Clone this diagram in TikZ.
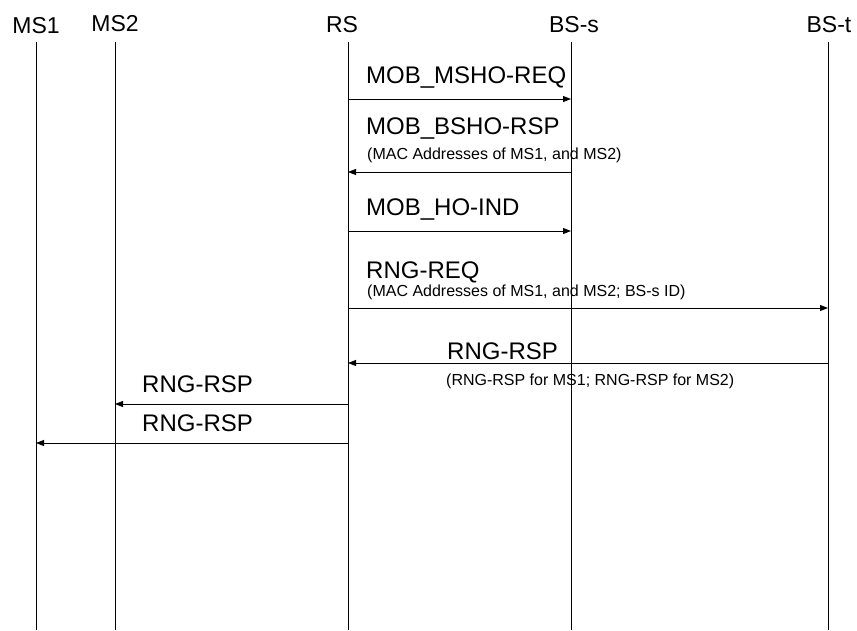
\documentclass[tikz,border=0pt]{standalone}
\usepackage{fontspec}
\setmainfont{Liberation Sans}
\usetikzlibrary{positioning,arrows.meta}

\begin{document}
\begin{tikzpicture}[
  x=1pt,y=-1pt,
  entity/.style={anchor=base,inner sep=0pt,font=\fontsize{23}{27}\selectfont},
  msglabel/.style={anchor=base west,inner sep=0pt,font=\fontsize{24}{28}\selectfont},
  msgnote/.style={anchor=base west,inner sep=0pt,font=\fontsize{16}{19}\selectfont},
  lifeline/.style={line width=0.9pt},
  msg/.style={line width=0.9pt,-{Triangle[length=8pt,width=6pt]}}
]
\useasboundingbox (0,0) rectangle (857,630);

% entities
\node[entity] (ms1) at (36,33) {MS1};
\node[entity] (ms2) at (115,31) {MS2};
\node[entity] (rs)  at (342,32) {RS};
\node[entity] (bss) at (574,32) {BS-s};
\node[entity] (bst) at (829,32) {BS-t};

% lifelines
\coordinate (ms1-top) at (36,42);  \coordinate (ms1-bot) at (36,630);
\coordinate (ms2-top) at (115,42); \coordinate (ms2-bot) at (115,630);
\coordinate (rs-top)  at (348,42); \coordinate (rs-bot)  at (348,630);
\coordinate (bss-top) at (571,42); \coordinate (bss-bot) at (571,630);
\coordinate (bst-top) at (828,42); \coordinate (bst-bot) at (828,630);
\draw[lifeline] (ms1-top) -- (ms1-bot);
\draw[lifeline] (ms2-top) -- (ms2-bot);
\draw[lifeline] (rs-top) -- (rs-bot);
\draw[lifeline] (bss-top) -- (bss-bot);
\draw[lifeline] (bst-top) -- (bst-bot);

% handover messages RS <-> BS-s
\node[msglabel] (mshoreq) at (366,83) {MOB\_MSHO-REQ};
\draw[msg] (rs-top |- 0,99) -- (bss-top |- 0,99);

\node[msglabel] (bshorsp) at (366,134) {MOB\_BSHO-RSP};
\node[msgnote] (bshonote) at (367,159) {(MAC Addresses of MS1, and MS2)};
\draw[msg] (bss-top |- 0,172) -- (rs-top |- 0,172);

\node[msglabel] (hoind) at (366,215) {MOB\_HO-IND};
\draw[msg] (rs-top |- 0,231) -- (bss-top |- 0,231);

% ranging with BS-t
\node[msglabel] (rngreq) at (366,278) {RNG-REQ};
\node[msgnote] (rngreqnote) at (367,296) {(MAC Addresses of MS1, and MS2; BS-s ID)};
\draw[msg] (rs-top |- 0,308) -- (bst-top |- 0,308);

\node[msglabel] (rngrsp) at (447,359) {RNG-RSP};
\node[msgnote] (rngrspnote) at (446,385) {(RNG-RSP for MS1; RNG-RSP for MS2)};
\draw[msg] (bst-top |- 0,363) -- (rs-top |- 0,363);

% relayed responses
\node[msglabel] (rngrspb) at (142,392) {RNG-RSP};
\draw[msg] (rs-top |- 0,404) -- (ms2-top |- 0,404);

\node[msglabel] (rngrspa) at (142,431) {RNG-RSP};
\draw[msg] (rs-top |- 0,443) -- (ms1-top |- 0,443);
\end{tikzpicture}
\end{document}
